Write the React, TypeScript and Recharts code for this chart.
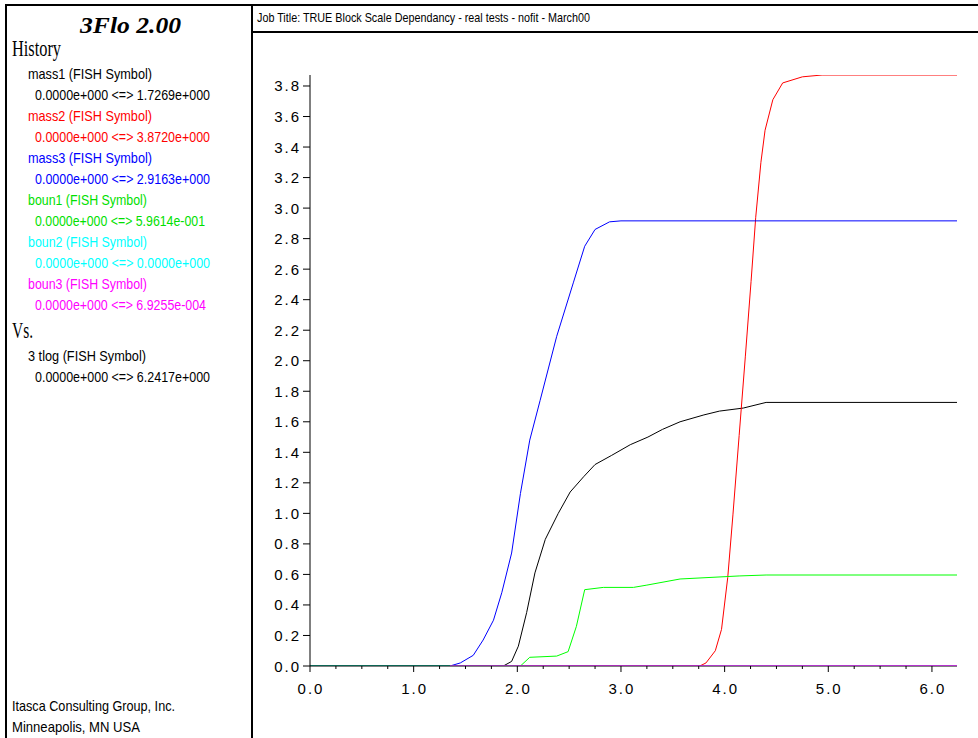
import React from 'react'
import { LineChart, Line, XAxis, YAxis } from 'recharts'

// x = 3 tlog, y = history values
const mass1X = [0, 1.865, 1.945, 2.01, 2.09, 2.17, 2.27, 2.395, 2.51, 2.64, 2.75, 2.91, 3.09, 3.26, 3.4, 3.57, 3.8, 3.95, 4.18, 4.4, 6.2417]
const mass1Y = [0, 0, 0.03, 0.13, 0.35, 0.61, 0.83, 1.0, 1.14, 1.24, 1.32, 1.38, 1.45, 1.5, 1.55, 1.6, 1.645, 1.67, 1.69, 1.7269, 1.7269]

const mass2X = [0, 3.76, 3.82, 3.91, 3.97, 4.03, 4.08, 4.14, 4.2, 4.255, 4.3, 4.35, 4.39, 4.465, 4.56, 4.75, 4.94, 6.2417]
const mass2Y = [0, 0, 0.02, 0.1, 0.24, 0.58, 0.99, 1.51, 2.03, 2.52, 2.94, 3.3, 3.51, 3.71, 3.82, 3.86, 3.872, 3.872]

const mass3X = [0, 1.35, 1.45, 1.575, 1.67, 1.77, 1.85, 1.945, 2.03, 2.12, 2.22, 2.38, 2.54, 2.65, 2.75, 2.89, 3.0, 6.2417]
const mass3Y = [0, 0, 0.02, 0.07, 0.17, 0.3, 0.48, 0.74, 1.13, 1.48, 1.74, 2.16, 2.51, 2.75, 2.86, 2.91, 2.9163, 2.9163]

const boun1X = [0, 2.03, 2.12, 2.38, 2.49, 2.57, 2.65, 2.83, 3.12, 3.25, 3.57, 4.14, 4.4, 6.2417]
const boun1Y = [0, 0, 0.057, 0.065, 0.094, 0.26, 0.5, 0.515, 0.515, 0.53, 0.57, 0.59, 0.5961, 0.5961]

const boun2X = [0, 6.2417]
const boun2Y = [0, 0]

const boun3X = [1.35, 6.2417]
const boun3Y = [0, 0.00069]

const xMajor = [0, 1, 2, 3, 4, 5, 6]
const xTicks = [0, 0.25, 0.5, 0.75, 1, 1.25, 1.5, 1.75, 2, 2.25, 2.5, 2.75, 3, 3.25, 3.5, 3.75, 4, 4.25, 4.5, 4.75, 5, 5.25, 5.5, 5.75, 6]
const yTicks = [0, 0.2, 0.4, 0.6, 0.8, 1.0, 1.2, 1.4, 1.6, 1.8, 2.0, 2.2, 2.4, 2.6, 2.8, 3.0, 3.2, 3.4, 3.6, 3.8]

// legend text, with the width each line takes in the original
const historyItems = [
  { name: 'mass1 (FISH Symbol)', nameW: 124, range: '0.0000e+000 <=> 1.7269e+000', rangeW: 175, color: '#000000' },
  { name: 'mass2 (FISH Symbol)', nameW: 124, range: '0.0000e+000 <=> 3.8720e+000', rangeW: 175, color: '#ff0000' },
  { name: 'mass3 (FISH Symbol)', nameW: 124, range: '0.0000e+000 <=> 2.9163e+000', rangeW: 175, color: '#0000ff' },
  { name: 'boun1 (FISH Symbol)', nameW: 119, range: '0.0000e+000 <=> 5.9614e-001', rangeW: 170, color: '#00e000' },
  { name: 'boun2 (FISH Symbol)', nameW: 119, range: '0.0000e+000 <=> 0.0000e+000', rangeW: 175, color: '#00ffff' },
  { name: 'boun3 (FISH Symbol)', nameW: 119, range: '0.0000e+000 <=> 6.9255e-004', rangeW: 171, color: '#ff00ff' },
]

const toPoints = (xs: number[], ys: number[]) => xs.map((t, i) => ({ t, v: ys[i] }))

const series = [
  { key: 'mass1', data: toPoints(mass1X, mass1Y), color: '#000000', z: 400 },
  { key: 'mass2', data: toPoints(mass2X, mass2Y), color: '#ff0000', z: 400 },
  { key: 'mass3', data: toPoints(mass3X, mass3Y), color: '#0000ff', z: 400 },
  { key: 'boun1', data: toPoints(boun1X, boun1Y), color: '#00ff00', z: 400 },
  { key: 'boun2', data: toPoints(boun2X, boun2Y), color: '#00ffff', z: 400 },
  { key: 'boun3', data: toPoints(boun3X, boun3Y), color: '#ff00ff', z: 600 },
]

const sans = '"Liberation Sans", Arial, sans-serif'
const serif = '"Liberation Serif", "Times New Roman", serif'

const XTick = (props: any) => {
  const { x, y, payload } = props
  const major = xMajor.includes(payload.value)
  return (
    <g>
      <line x1={x} x2={x} y1={y} y2={y + (major ? 6 : 3)} stroke="#000" strokeWidth={1} />
      {major && (
        <text x={x + 1} y={y + 28} textAnchor="middle" fontFamily={sans} fontSize={15} letterSpacing={2} fill="#000">
          {payload.value.toFixed(1)}
        </text>
      )}
    </g>
  )
}

const YTick = (props: any) => {
  const { x, y, payload } = props
  return (
    <g>
      <line x1={x - 7} x2={x} y1={y} y2={y} stroke="#000" strokeWidth={1} />
      <text x={x - 9} y={y + 5.5} textAnchor="end" fontFamily={sans} fontSize={15} letterSpacing={2} fill="#000">
        {payload.value.toFixed(1)}
      </text>
    </g>
  )
}

const Label = ({ x, y, w, color = '#000', text }: any) => (
  <text x={x} y={y} fontFamily={sans} fontSize={15} textLength={w} lengthAdjust="spacingAndGlyphs" fill={color}>
    {text}
  </text>
)

const SidePanel = () => (
  <svg width={978} height={738} style={{ position: 'absolute', left: 0, top: 0 }}>
    <rect x={0} y={0} width={978} height={738} fill="#fff" />
    {/* frames */}
    <line x1={6} x2={6} y1={4} y2={738} stroke="#000" strokeWidth={2} />
    <line x1={5} x2={978} y1={5} y2={5} stroke="#000" strokeWidth={2} />
    <line x1={252} x2={252} y1={4} y2={738} stroke="#000" strokeWidth={2} />
    <line x1={252} x2={978} y1={32} y2={32} stroke="#000" strokeWidth={2} />

    <text x={257} y={22} fontFamily={sans} fontSize={13} textLength={333} lengthAdjust="spacingAndGlyphs" fill="#000">
      Job Title: TRUE Block Scale Dependancy - real tests - nofit - March00
    </text>

    <text x={80} y={33} fontFamily={serif} fontSize={24} fontWeight="bold" fontStyle="italic" textLength={101} lengthAdjust="spacingAndGlyphs" fill="#000">
      3Flo 2.00
    </text>
    <text x={12} y={56} fontFamily={serif} fontSize={23} textLength={49} lengthAdjust="spacingAndGlyphs" fill="#000">
      History
    </text>
    {historyItems.map((h, i) => (
      <g key={h.name}>
        <Label x={28} y={79 + i * 42} w={h.nameW} color={h.color} text={h.name} />
        <Label x={35} y={100 + i * 42} w={h.rangeW} color={h.color} text={h.range} />
      </g>
    ))}
    <text x={12} y={338} fontFamily={serif} fontSize={23} textLength={21} lengthAdjust="spacingAndGlyphs" fill="#000">
      Vs.
    </text>
    <Label x={28} y={361} w={118} text="3 tlog (FISH Symbol)" />
    <Label x={35} y={382} w={175} text="0.0000e+000 <=> 6.2417e+000" />

    <Label x={12} y={711} w={163} text="Itasca Consulting Group, Inc." />
    <Label x={12} y={732} w={128} text="Minneapolis, MN  USA" />
  </svg>
)

export default function App() {
  return (
    <div style={{ position: 'absolute', left: 0, top: 0, width: 978, height: 738, background: '#fff' }}>
      <SidePanel />
      <div style={{ position: 'absolute', left: 0, top: 0 }}>
        <LineChart width={978} height={738} margin={{ top: 75, right: 21, left: 250, bottom: 42 }}>
          <XAxis
            type="number"
            dataKey="t"
            domain={[0, 6.2417]}
            allowDataOverflow
            ticks={xTicks}
            interval={0}
            height={30}
            tickSize={0}
            tickMargin={0}
            tickLine={false}
            axisLine={{ stroke: '#000', strokeWidth: 1 }}
            tick={(p: any) => <XTick {...p} />}
          />
          <YAxis
            type="number"
            dataKey="v"
            domain={[0, 3.872]}
            allowDataOverflow
            ticks={yTicks}
            interval={0}
            width={60}
            tickSize={0}
            tickMargin={0}
            tickLine={false}
            axisLine={{ stroke: '#000', strokeWidth: 1 }}
            tick={(p: any) => <YTick {...p} />}
          />
          {series.map((s) => (
            <Line
              key={s.key}
              data={s.data}
              dataKey="v"
              type="linear"
              stroke={s.color}
              strokeWidth={1}
              dot={false}
              activeDot={false}
              isAnimationActive={false}
              zIndex={s.z}
            />
          ))}
        </LineChart>
      </div>
    </div>
  )
}
